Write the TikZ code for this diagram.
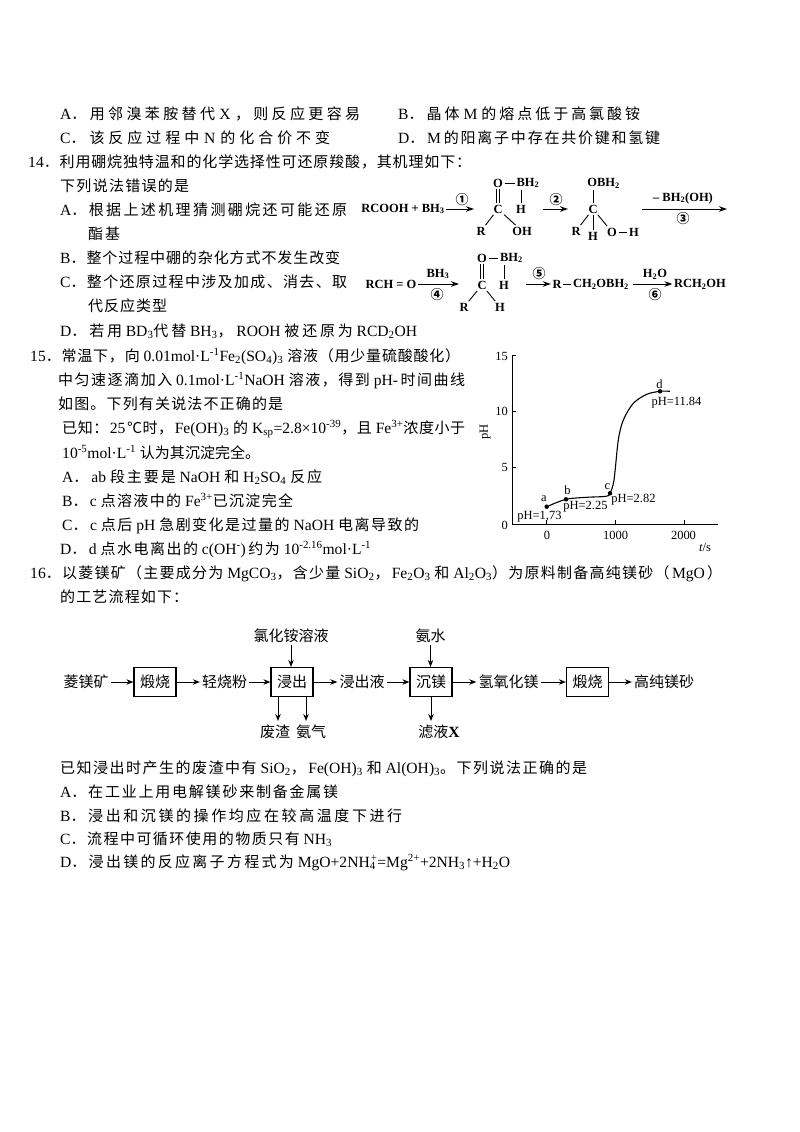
\documentclass[tikz,border=0pt]{standalone}
\usepackage{fontspec}
\usetikzlibrary{arrows.meta}
\setmainfont[Scale=1.04]{Liberation Serif}
\newfontfamily\latinfont[Scale=1.04]{Liberation Serif}
\newfontfamily\cjkfont{Noto Sans CJK SC}
\XeTeXinterchartokenstate=1
\newXeTeXintercharclass\cjkcls
\newXeTeXintercharclass\dotcls
\newcount\cc
\newcommand\setcjkrange[2]{\cc=#1\relax\loop\XeTeXcharclass\cc=\cjkcls\relax\ifnum\cc<#2\relax\advance\cc by 1\relax\repeat}
\setcjkrange{"3000}{"303F}
\setcjkrange{"4E00}{"9FFF}
\setcjkrange{"FF00}{"FFEF}
\setcjkrange{"2460}{"2473}
\setcjkrange{"2103}{"2103}
\XeTeXcharclass"FF0E=\dotcls
\XeTeXinterchartoks 0 \cjkcls={\hskip 1pt plus 1fil\relax\cjkfont}
\XeTeXinterchartoks 4095 \cjkcls={\cjkfont}
\XeTeXinterchartoks \cjkcls 0={\hskip 1pt plus 1fil\relax\latinfont}
\XeTeXinterchartoks \cjkcls 4095={\latinfont}
\XeTeXinterchartoks \cjkcls \cjkcls={\hskip 0pt plus 1fil\relax}
\XeTeXinterchartoks 0 \dotcls={\cjkfont}
\XeTeXinterchartoks \dotcls \cjkcls={\hskip 0pt plus 1fil\relax}
\XeTeXinterchartoks \dotcls 0={\hskip 1pt plus 1fil\relax\latinfont}
\XeTeXinterchartoks \dotcls 4095={\latinfont}
\newcommand\Sb[1]{\textsubscript{#1}}
\newcommand\Sp[1]{\textsuperscript{#1}}
\newcounter{tl}
\tikzset{
 txt/.style={anchor=base west,inner sep=0pt,font=\fontsize{15}{18}\selectfont},
 flowlabel/.style={inner sep=2pt,font=\fontsize{15}{18}\selectfont},
 flowbox/.style={draw,line width=1.2pt,minimum width=42pt,minimum height=29pt,inner sep=0pt,font=\fontsize{15}{18}\selectfont},
 flowarrow/.style={line width=1pt,-{Stealth[length=7pt,width=5.5pt]}},
 chem/.style={inner sep=1.5pt,font=\bfseries\fontsize{12}{14}\selectfont},
 circ/.style={inner sep=0pt,font=\bfseries\fontsize{13}{14}\selectfont},
 bond/.style={line width=.9pt},
 dbl/.style={line width=.8pt},
 chemarrow/.style={line width=1pt,-{Stealth[length=8pt,width=5.5pt]}},
 axis/.style={line width=1pt},
 chart/.style={inner sep=0pt,font=\fontsize{12}{13}\selectfont},
 dot/.style={circle,fill,inner sep=0pt,minimum size=4.5pt}
}
\newcommand\tline[4]{\stepcounter{tl}\node[txt] (t\arabic{tl}) at (#1,#3) {\makebox[\dimexpr #2pt-#1pt\relax][s]{#4}};}
\begin{document}
\begin{tikzpicture}[x=1pt,y=-1pt]
\useasboundingbox (0,0) rectangle (800,1132);
% text
\tline{60}{360}{119}{A．用邻溴苯胺替代X，则反应更容易}
\tline{398}{640}{119}{B．晶体M的熔点低于高氯酸铵}
\tline{60}{330}{143}{C．该反应过程中N的化合价不变}
\tline{398}{660}{143}{D．M的阳离子中存在共价键和氢键}
\tline{28}{471}{167}{14．利用硼烷独特温和的化学选择性可还原羧酸，其机理如下：}
\tline{60}{189}{191}{下列说法错误的是}
\tline{60}{347}{215}{A．根据上述机理猜测硼烷还可能还原}
\tline{88}{120}{239}{酯基}
\tline{60}{340}{263}{B．整个过程中硼的杂化方式不发生改变}
\tline{60}{347}{287}{C．整个还原过程中涉及加成、消去、取}
\tline{88}{167}{311}{代反应类型}
\tline{60}{417}{336}{D．若用BD\Sb{3}代替BH\Sb{3}，ROOH被还原为RCD\Sb{2}OH}
\tline{30}{460}{361}{15．常温下，向 0.01mol·L\Sp{-1}Fe\Sb{2}(SO\Sb{4})\Sb{3} 溶液（用少量硫酸酸化）}
\tline{58}{465}{385}{中匀速逐滴加入 0.1mol·L\Sp{-1}NaOH 溶液，得到 pH-时间曲线}
\tline{58}{283}{409}{如图。下列有关说法不正确的是}
\tline{62}{465}{433}{已知：25℃时，Fe(OH)\Sb{3} 的 K\Sb{sp}=2.8×10\Sp{-39}，且 Fe\Sp{3+}浓度小于}
\tline{62}{260}{458}{10\Sp{-5}mol·L\Sp{-1} 认为其沉淀完全。}
\tline{62}{322}{482}{A．ab 段主要是 NaOH 和 H\Sb{2}SO\Sb{4} 反应}
\tline{62}{293}{506}{B．c 点溶液中的 Fe\Sp{3+}已沉淀完全}
\tline{62}{419}{530}{C．c 点后 pH 急剧变化是过量的 NaOH 电离导致的}
\tline{60}{371}{554}{D．d 点水电离出的 c(OH\Sp{-})约为 10\Sp{-2.16}mol·L\Sp{-1}}
\tline{30}{722}{578}{16．以菱镁矿（主要成分为 MgCO\Sb{3}，含少量 SiO\Sb{2}，Fe\Sb{2}O\Sb{3} 和 Al\Sb{2}O\Sb{3}）为原料制备高纯镁砂（MgO）}
\tline{60}{188}{602}{的工艺流程如下：}
\tline{60}{587}{773}{已知浸出时产生的废渣中有 SiO\Sb{2}，Fe(OH)\Sb{3} 和 Al(OH)\Sb{3}。下列说法正确的是}
\tline{60}{338}{797}{A．在工业上用电解镁砂来制备金属镁}
\tline{60}{402}{821}{B．浸出和沉镁的操作均应在较高温度下进行}
\tline{60}{332}{844}{C．流程中可循环使用的物质只有 NH\Sb{3}}
\tline{60}{510}{867}{D．浸出镁的反应离子方程式为 MgO+2NH\Sb{4}\kern-5pt\Sp{+}=Mg\Sp{2+}+2NH\Sb{3}↑+H\Sb{2}O}
% flow
\node[flowlabel] (f0) at (86,682) {菱镁矿};
\node[flowbox] (b1) at (155,682) {煅烧};
\node[flowlabel] (f1) at (224.5,682) {轻烧粉};
\node[flowbox] (b2) at (292,682) {浸出};
\node[flowlabel] (f2) at (362,682) {浸出液};
\node[flowbox] (b3) at (431,682) {沉镁};
\node[flowlabel] (f3) at (508.5,682) {氢氧化镁};
\node[flowbox] (b4) at (587.5,682) {煅烧};
\node[flowlabel] (f4) at (664,682) {高纯镁砂};
\node[flowlabel] (top1) at (291,636) {氯化铵溶液};
\node[flowlabel] (top2) at (430.5,636) {氨水};
\node[flowlabel] (bot1) at (275,732) {废渣};
\node[flowlabel] (bot2) at (311,732) {氨气};
\node[flowlabel] (bot3) at (439,732) {滤液\textbf{X}};
\coordinate (d1s) at (278,696.5); \coordinate (d1e) at (278,721);
\coordinate (d2s) at (306,696.5); \coordinate (d2e) at (306,721);
\coordinate (d3e) at (431,721);
\draw[flowarrow] (f0) -- (b1);
\draw[flowarrow] (b1) -- (f1);
\draw[flowarrow] (f1) -- (b2);
\draw[flowarrow] (b2) -- (f2);
\draw[flowarrow] (f2) -- (b3);
\draw[flowarrow] (b3) -- (f3);
\draw[flowarrow] (f3) -- (b4);
\draw[flowarrow] (b4) -- (f4);
\draw[flowarrow] (top1.south) -- (top1.south |- b2.north);
\draw[flowarrow] (top2.south) -- (top2.south |- b3.north);
\draw[flowarrow] (d1s) -- (d1e);
\draw[flowarrow] (d2s) -- (d2e);
\draw[flowarrow] (b3.south) -- (d3e);
% chart
\coordinate (o) at (512.3,524); \coordinate (ytop) at (512.3,355); \coordinate (xend) at (718,524);
\draw[axis] (ytop) -- (o) -- (xend);
\foreach \yy in {355,411,467} \draw[axis] (512.3,\yy) -- ++(4,0);
\foreach \xx in {546.7,615.7,684} \draw[axis] (\xx,524) -- ++(0,-4);
\node[chart,anchor=east] (y15) at (508,356) {15};
\node[chart,anchor=east] (y10) at (508,411) {10};
\node[chart,anchor=east] (y5) at (508,467) {5};
\node[chart,anchor=east] (y0) at (508,525) {0};
\node[chart] (x0) at (547,535) {0};
\node[chart] (x1) at (615.7,535) {1000};
\node[chart] (x2) at (683.5,535) {2000};
\node[chart,font=\itshape\fontsize{12}{13}\selectfont] (tslabel) at (705,547.5) {t\upshape/s};
\node[chart,rotate=90] (phlabel) at (485,432) {pH};
\draw[line width=1.1pt] plot[smooth,tension=.5] coordinates {(546.7,506.7) (566,499.3) (586.7,497.3) (606,496.3) (610,493.3) (614,480) (618.3,440) (623.3,420) (633.3,403.3) (646.7,394.3) (660,391.3) (670,391.3)};
\node[dot] (pa) at (546.7,506.7) {};
\node[dot] (pb) at (566,499.3) {};
\node[dot] (pc) at (610,493.3) {};
\node[dot] (pd) at (660,391.3) {};
\node[chart] (la) at (544,498.5) {a};
\node[chart] (lb) at (567.5,490) {b};
\node[chart] (lc) at (607.5,486.5) {c};
\node[chart] (ld) at (659.5,384) {d};
\node[chart] (va) at (539.5,517) {pH=1,73};
\node[chart] (vb) at (585.5,507) {pH=2.25};
\node[chart] (vc) at (633.5,499.5) {pH=2.82};
\node[chart] (vd) at (676.5,402.5) {pH=11.84};
% mechanism row 1
\node[chem] (r1) at (403,209) {RCOOH + BH\Sb{3}};
\coordinate (a1e) at (474,209);
\draw[chemarrow] (r1) -- (a1e);
\node[circ] (c1) at (462,200) {①};
\node[chem] (O1) at (498,183) {O};
\node[chem] (B1) at (528,183) {BH\Sb{2}};
\node[chem] (C1) at (498,209) {C};
\node[chem] (H1) at (521,209) {H};
\node[chem] (R1) at (481,231) {R};
\node[chem] (OH1) at (522,231) {OH};
\draw[bond] (O1) -- (B1);
\draw[dbl] ([xshift=-1.5pt]O1.south) -- ([xshift=-1.5pt]C1.north);
\draw[dbl] ([xshift=1.5pt]O1.south) -- ([xshift=1.5pt]C1.north);
\draw[bond] (H1.north) -- (H1.north |- B1.south);
\draw[bond] (C1) -- (R1);
\draw[bond] (C1) -- (OH1);
\coordinate (a2s) at (543,209); \coordinate (a2e) at (568,209);
\draw[chemarrow] (a2s) -- (a2e);
\node[circ] (c2) at (556,200) {②};
\node[chem] (O2) at (603.5,183) {OBH\Sb{2}};
\node[chem] (C2) at (593,209) {C};
\node[chem] (R2) at (576,231) {R};
\node[chem] (H2) at (593,236) {H};
\node[chem] (Oo) at (612,232) {O};
\node[chem] (Hh) at (634,232) {H};
\draw[bond] (C2.north) -- (C2.north |- O2.south);
\draw[bond] (C2) -- (R2);
\draw[bond] (C2) -- (H2);
\draw[bond] (C2) -- (Oo);
\draw[bond] (Oo) -- (Hh);
\coordinate (a3s) at (642,209); \coordinate (a3e) at (727,209);
\draw[chemarrow] (a3s) -- (a3e);
\node[chem] (l3) at (683,198) {– BH\Sb{2}(OH)};
\node[circ] (c3) at (683,219) {③};
% mechanism row 2
\node[chem] (rch) at (391,284) {RCH = O};
\coordinate (a4e) at (459,284);
\draw[chemarrow] (rch) -- (a4e);
\node[chem] (l4) at (438,274) {BH\Sb{3}};
\node[circ] (c4) at (437,295) {④};
\node[chem] (O3) at (482,258) {O};
\node[chem] (B3) at (511.5,258) {BH\Sb{2}};
\node[chem] (C3) at (482,285) {C};
\node[chem] (H3) at (504,285) {H};
\node[chem] (R3) at (464,307) {R};
\node[chem] (H4) at (500,307) {H};
\draw[bond] (O3) -- (B3);
\draw[dbl] ([xshift=-1.5pt]O3.south) -- ([xshift=-1.5pt]C3.north);
\draw[dbl] ([xshift=1.5pt]O3.south) -- ([xshift=1.5pt]C3.north);
\draw[bond] (H3.north) -- (H3.north |- B3.south);
\draw[bond] (C3) -- (R3);
\draw[bond] (C3) -- (H4);
\coordinate (a5s) at (526,284);
\node[chem] (Rr) at (557,284) {R};
\draw[chemarrow] (a5s) -- (Rr);
\node[circ] (c5) at (539,274) {⑤};
\node[chem] (ch) at (601,284) {CH\Sb{2}OBH\Sb{2}};
\draw[bond] (Rr) -- (ch);
\coordinate (a6s) at (633,284);
\node[chem] (end) at (700,284) {RCH\Sb{2}OH};
\draw[chemarrow] (a6s) -- (end);
\node[chem] (l6) at (655,274) {H\Sb{2}O};
\node[circ] (c6) at (655,295) {⑥};
\end{tikzpicture}
\end{document}
